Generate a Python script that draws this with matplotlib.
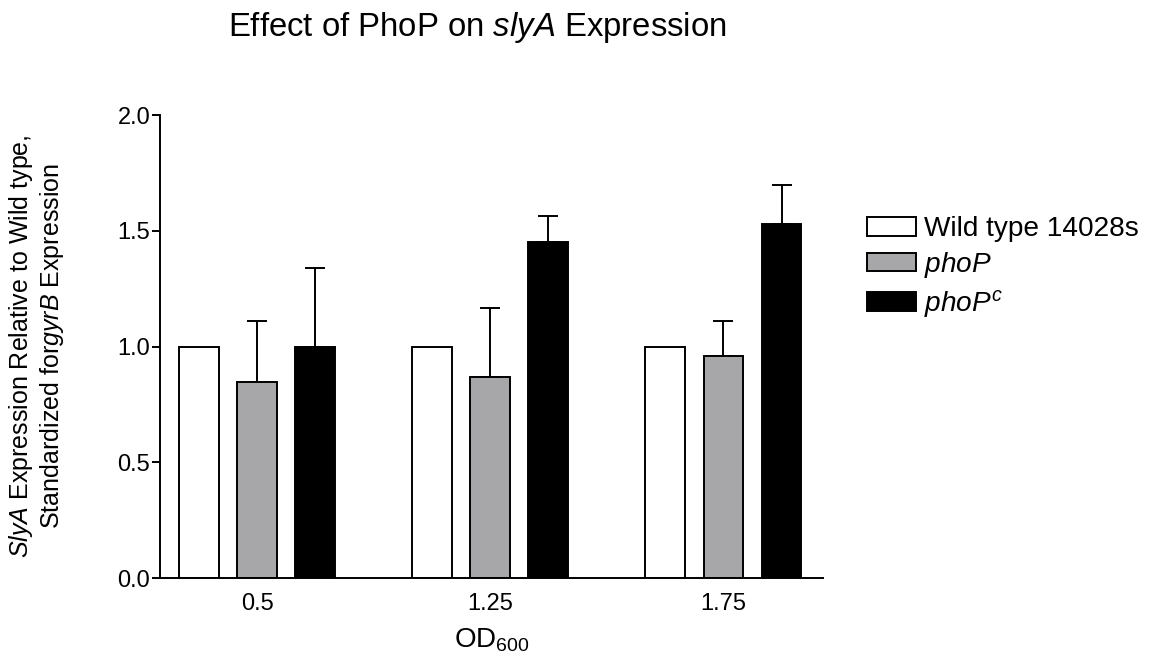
import matplotlib
matplotlib.use("Agg")
import matplotlib.pyplot as plt
import numpy as np

plt.rcParams['font.family'] = ['Liberation Sans', 'DejaVu Sans']
plt.rcParams['mathtext.fontset'] = 'custom'
plt.rcParams['mathtext.rm'] = 'Liberation Sans'
plt.rcParams['mathtext.it'] = 'Liberation Sans:italic'
plt.rcParams['mathtext.bf'] = 'Liberation Sans:bold'

categories = ["0.5", "1.25", "1.75"]
series_labels = ["Wild type 14028s", r"$\it{phoP}$", r"$\it{phoP}^{\it{c}}$"]
wild_type = [1.0, 1.0, 1.0]
phoP = [0.847, 0.870, 0.960]
phoP_c = [1.0, 1.453, 1.529]
phoP_err = [0.264, 0.298, 0.151]
phoP_c_err = [0.340, 0.111, 0.169]

fig = plt.figure(figsize=(11.56, 6.66), dpi=100)
ax = fig.add_axes([0.1384, 0.1321, 0.712 - 0.1384, 0.8273 - 0.1321])

x = np.arange(len(categories))
w = 0.171
off = 0.249
colors = ["white", "#a7a7a9", "black"]
values = [wild_type, phoP, phoP_c]
errs = [None, phoP_err, phoP_c_err]
for i, (vals, col, lab, er) in enumerate(zip(values, colors, series_labels, errs)):
    pos = x + (i - 1) * off
    ax.bar(pos, vals, width=w, color=col, edgecolor="black", linewidth=1.4, label=lab, zorder=2)
    if er is not None:
        ax.errorbar(pos, vals, yerr=[np.zeros(len(er)), er], fmt="none", ecolor="black",
                    elinewidth=1.4, capsize=7.5, capthick=1.4, zorder=1)

ax.set_ylim(0, 2.0)
ax.set_xlim(-0.416, 2.427)
ax.set_yticks([0.0, 0.5, 1.0, 1.5, 2.0])
ax.set_yticklabels(["0.0", "0.5", "1.0", "1.5", "2.0"])
ax.set_xticks(x)
ax.set_xticklabels(categories)
ax.spines['top'].set_visible(False)
ax.spines['right'].set_visible(False)
ax.spines['left'].set_linewidth(1.4)
ax.spines['bottom'].set_linewidth(1.4)
ax.tick_params(axis='y', direction='out', length=6, width=1.4, labelsize=17, pad=1)
ax.tick_params(axis='x', length=0, labelsize=17, pad=11)

ax.set_xlabel(r"OD$_{600}$", fontsize=20, labelpad=8)
ax.set_ylabel(r"$\it{SlyA}$ Expression Relative to Wild type," + "\n" + r"Standardized for$\it{gyrB}$ Expression",
              fontsize=18, linespacing=1.15)
ax.yaxis.set_label_coords(-0.141, 0.5)

fig.text(0.413, 0.958, r"Effect of PhoP on $\it{slyA}$ Expression", fontsize=23.7, ha="center", va="center")

ax.legend(loc="upper left", bbox_to_anchor=(0.740, 0.692), bbox_transform=fig.transFigure,
          frameon=False, fontsize=20.2, handlelength=1.75, handleheight=0.65,
          handletextpad=0.3, labelspacing=0.27, borderaxespad=0)

fig.savefig("out.png", dpi=100)
